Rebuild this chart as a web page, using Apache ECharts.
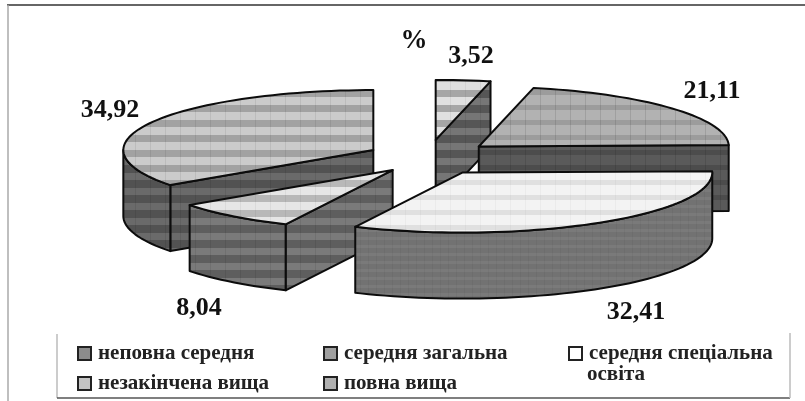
<!DOCTYPE html>
<html>
<head>
<meta charset="utf-8">
<title>Exploded pie</title>
<script src="https://cdn.jsdelivr.net/npm/echarts@6/dist/echarts.min.js"></script>
<style>
  html, body { margin: 0; padding: 0; background: #fff; }
  #chart { width: 805px; height: 401px; filter: blur(0.5px); }
</style>
</head>
<body>
<div id="chart"></div>
<script>
// Data
const categories = ['неповна середня', 'середня загальна', 'середня спеціальна освіта', 'незакінчена вища', 'повна вища']
const values = [3.52, 21.11, 32.41, 8.04, 34.92]
const unitLabel = '%'

// Layout of the fake 3D pie
const center = [428.5, 158]
const radiusX = 250
const radiusY = 60
const depth = 66
const explode = [65, 65, 62, 56, 62]
const explodeSquash = 0.28
const paintOrder = [0, 2, 4, 3, 1]
const labelPos = [[471, 56], [712, 91], [636, 312], [199, 308], [110, 110]]
const legendPos = [[77, 343], [323, 343], [568, 343], [77, 373], [323, 373]]
const swatches = ['#8c8c8c', '#a0a0a0', '#ffffff', '#c4c4c4', '#b0b0b0']

const serifBold = '"Liberation Serif", "Times New Roman", serif'

// small repeating fill: flat base, one horizontal band, faint grid
function makeTile(base, band, bandH, period, grid) {
  const c = document.createElement('canvas')
  c.width = period
  c.height = period
  const g = c.getContext('2d')
  g.fillStyle = base
  g.fillRect(0, 0, period, period)
  g.fillStyle = band
  g.fillRect(0, 0, period, bandH)
  g.fillStyle = grid
  g.fillRect(0, 0, 1, period)
  return { image: c, repeat: 'repeat' }
}

const topFills = [
  makeTile('#e0e0e0', '#a6a6a6', 7, 15, 'rgba(0,0,0,0.05)'),
  makeTile('#b2b2b2', '#9c9c9c', 5, 15, 'rgba(0,0,0,0.1)'),
  makeTile('#f3f3f3', '#e0e0e0', 5, 15, 'rgba(0,0,0,0.03)'),
  makeTile('#e6e6e6', '#b8b8b8', 7, 15, 'rgba(0,0,0,0.05)'),
  makeTile('#cbcbcb', '#a2a2a2', 7, 15, 'rgba(0,0,0,0.07)')
]
const sideFills = [
  makeTile('#767676', '#565656', 8, 15, 'rgba(0,0,0,0.08)'),
  makeTile('#5a5a5a', '#4c4c4c', 5, 15, 'rgba(0,0,0,0.1)'),
  makeTile('#7a7a7a', '#727272', 5, 8, 'rgba(0,0,0,0.04)'),
  makeTile('#7a7a7a', '#5e5e5e', 8, 15, 'rgba(0,0,0,0.08)'),
  makeTile('#6a6a6a', '#525252', 8, 15, 'rgba(0,0,0,0.08)')
]

const total = values.reduce((a, b) => a + b, 0)
const startAngles = values.map((v, i) => values.slice(0, i).reduce((a, b) => a + b, 0) / total * 360)

function toRad(deg) { return deg * Math.PI / 180 }

// point on the rim, angle clockwise from the top
function rimPoint(apex, deg) {
  return [apex[0] + radiusX * Math.sin(toRad(deg)), apex[1] - radiusY * Math.cos(toRad(deg))]
}

function rimArc(apex, from, to) {
  const pts = []
  for (let a = from; a < to; a += 2) pts.push(rimPoint(apex, a))
  pts.push(rimPoint(apex, to))
  return pts
}

function dropped(pts) {
  return pts.map(p => [p[0], p[1] + depth]).reverse()
}

const renderSlice = i => (params, api) => {
  const value = api.value(0)
  const from = startAngles[i]
  const to = from + value / total * 360
  const mid = toRad((from + to) / 2)
  const apex = [
    center[0] + explode[i] * Math.sin(mid),
    center[1] - explode[i] * Math.cos(mid) * explodeSquash
  ]
  const edge = { stroke: '#0c0c0c', lineWidth: 2, lineJoin: 'round' }
  const children = []
  const addPoly = (points, fill) => {
    children.push({
      type: 'polygon',
      z2: paintOrder[i] * 10 + children.length,
      shape: { points },
      style: { fill, ...edge }
    })
  }

  // walls first, the top face goes over them
  if (Math.sin(toRad(from)) < -0.001) {
    const seg = [apex, rimPoint(apex, from)]
    addPoly(seg.concat(dropped(seg)), sideFills[i])
  }
  if (Math.sin(toRad(to)) > 0.001) {
    const seg = [apex, rimPoint(apex, to)]
    addPoly(seg.concat(dropped(seg)), sideFills[i])
  }
  const rimFrom = Math.max(from, 90)
  const rimTo = Math.min(to, 270)
  if (rimTo > rimFrom) {
    const arc = rimArc(apex, rimFrom, rimTo)
    addPoly(arc.concat(dropped(arc)), sideFills[i])
  }
  addPoly([apex].concat(rimArc(apex, from, to)), topFills[i])

  children.push({
    type: 'text',
    z2: 500,
    style: {
      x: labelPos[i][0],
      y: labelPos[i][1],
      text: value.toFixed(2).replace('.', ','),
      textAlign: 'center',
      textVerticalAlign: 'middle',
      font: 'bold 26px ' + serifBold,
      fill: '#111'
    }
  })
  return { type: 'group', children }
}

const chart = echarts.init(document.getElementById('chart'), null, { renderer: 'canvas' })

const frameLine = (x1, y1, x2, y2, stroke, lineWidth) => ({
  type: 'line',
  shape: { x1, y1, x2, y2 },
  style: { stroke, lineWidth }
})

chart.setOption({
  animation: false,
  backgroundColor: '#fff',
  legend: categories.map((name, i) => ({
    data: [{ name, itemStyle: { color: swatches[i], borderColor: '#222', borderWidth: 2 } }],
    left: legendPos[i][0],
    top: legendPos[i][1],
    padding: 0,
    itemWidth: 13,
    itemHeight: 13,
    itemGap: 0,
    icon: 'rect',
    selectedMode: false,
    // the long name wraps, the second line is in the graphic below
    formatter: n => n.replace(' освіта', ''),
    textStyle: { fontFamily: serifBold, fontWeight: 'bold', fontSize: 21, color: '#222', padding: [0, 0, 0, 2] }
  })),
  graphic: [
    frameLine(7, 5, 805, 5, '#333', 1.5),
    frameLine(8, 5, 8, 401, '#aaa', 1.5),
    frameLine(57, 334, 57, 398, '#bbb', 1.5),
    frameLine(57, 398, 790, 398, '#555', 1.5),
    frameLine(790, 333, 790, 398, '#bbb', 1.5),
    {
      type: 'text',
      style: { x: 414, y: 41, text: unitLabel, textAlign: 'center', textVerticalAlign: 'middle', font: 'bold 27px ' + serifBold, fill: '#111' }
    },
    {
      type: 'text',
      style: { x: 587, y: 375, text: 'освіта', textVerticalAlign: 'middle', font: 'bold 21px ' + serifBold, fill: '#222' }
    }
  ],
  series: categories.map((name, i) => ({
    type: 'custom',
    name,
    coordinateSystem: 'none',
    silent: true,
    itemStyle: { color: swatches[i] },
    data: [[values[i]]],
    renderItem: renderSlice(i)
  }))
})
</script>
</body>
</html>
